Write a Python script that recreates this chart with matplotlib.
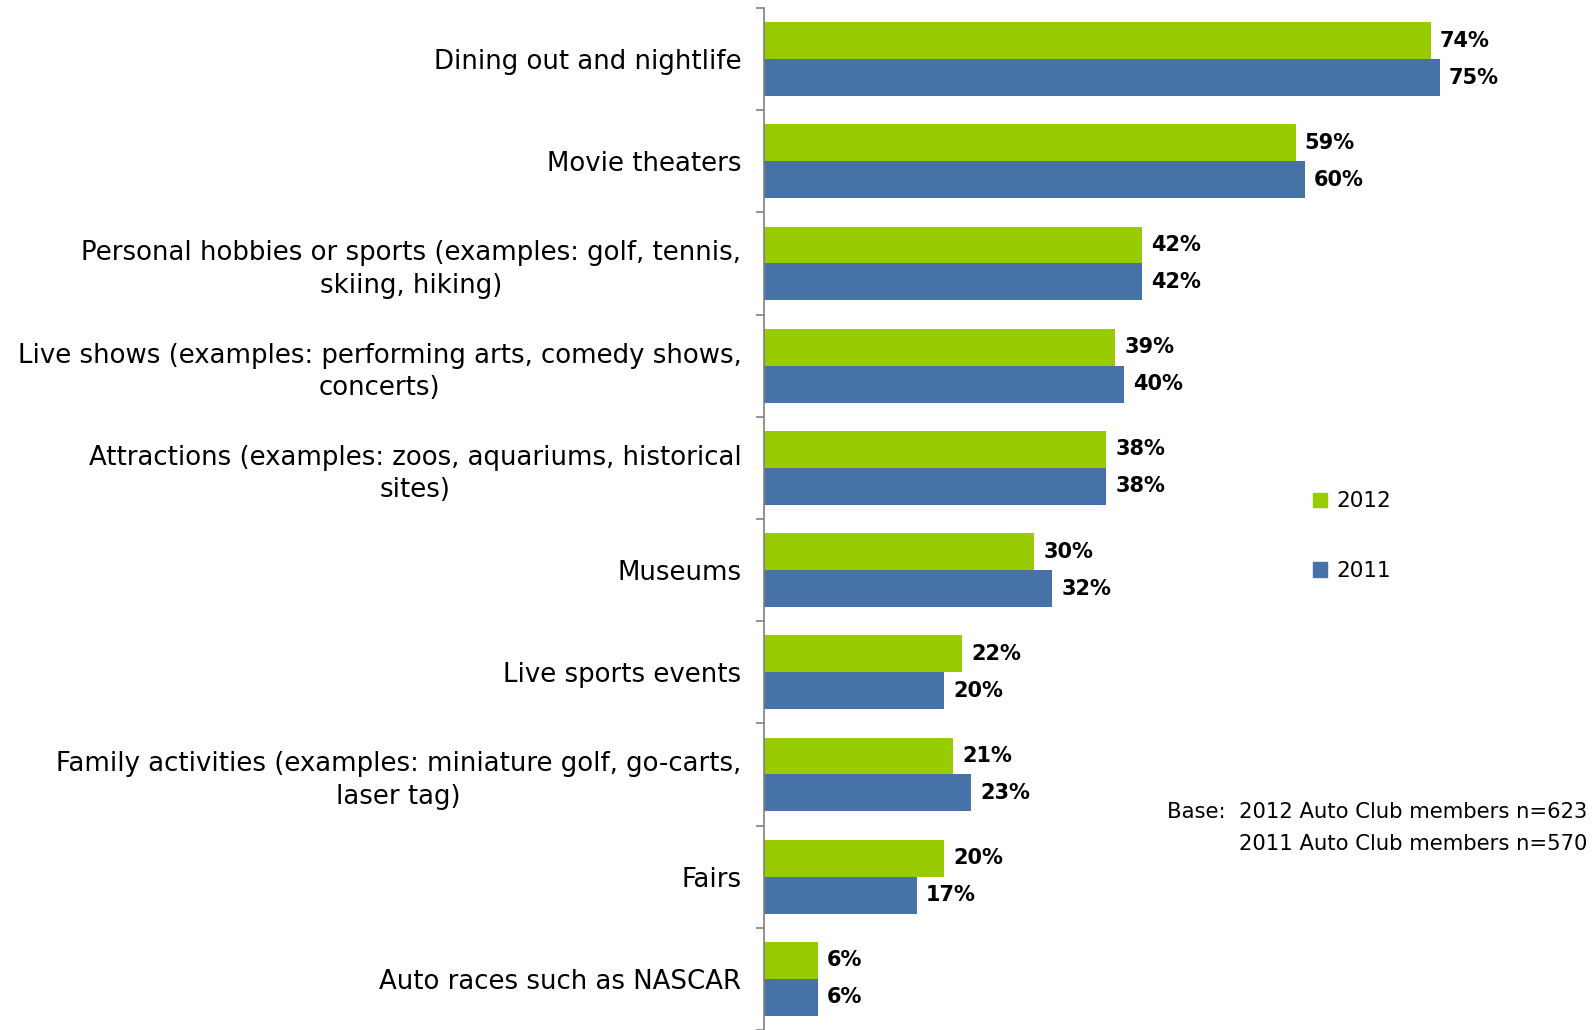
import numpy as np
import matplotlib.pyplot as plt
from matplotlib.patches import Patch

plt.rcParams["font.family"] = ["DejaVu Sans"]

categories = [
    "Dining out and nightlife",
    "Movie theaters",
    "Personal hobbies or sports (examples: golf, tennis,\nskiing, hiking)",
    "Live shows (examples: performing arts, comedy shows,\nconcerts)",
    "Attractions (examples: zoos, aquariums, historical\nsites)",
    "Museums",
    "Live sports events",
    "Family activities (examples: miniature golf, go-carts,\nlaser tag)",
    "Fairs",
    "Auto races such as NASCAR",
]
pct_2012 = [74, 59, 42, 39, 38, 30, 22, 21, 20, 6]
pct_2011 = [75, 60, 42, 40, 38, 32, 20, 23, 17, 6]

GREEN = "#99CC00"
BLUE = "#4672A8"

W, H = 1595, 1030
fig = plt.figure(figsize=(W / 100, H / 100), dpi=100)
ax = fig.add_axes([763.5 / W, 0, 1 - 763.5 / W, (H - 8) / H])

y = np.arange(len(categories))
bh = 0.362
ax.barh(y - bh / 2, pct_2012, height=bh, color=GREEN, label="2012")
ax.barh(y + bh / 2, pct_2011, height=bh, color=BLUE, label="2011")

for yi, v in zip(y - bh / 2, pct_2012):
    ax.annotate(f"{v}%", (v, yi), xytext=(6.5, 0), textcoords="offset points",
                va="center", ha="left", fontsize=15, fontweight="bold")
for yi, v in zip(y + bh / 2, pct_2011):
    ax.annotate(f"{v}%", (v, yi), xytext=(6.5, 0), textcoords="offset points",
                va="center", ha="left", fontsize=15, fontweight="bold")

ax.set_xlim(0, (W - 763.5) / 9.02)
ax.set_ylim(len(categories) - 0.5, -0.5)

# category names at the centres, tick marks on the boundaries
ax.set_yticks(y)
ax.set_yticklabels(categories, fontsize=18.7, multialignment="center", linespacing=1.32)
ax.tick_params(axis="y", which="major", length=0, pad=16)
ax.set_yticks(np.arange(len(categories) + 1) - 0.5, minor=True)
ax.tick_params(axis="y", which="minor", length=6, width=1.2, color="#808080")
ax.set_xticks([])

for s in ["top", "right", "bottom"]:
    ax.spines[s].set_visible(False)
ax.spines["left"].set_color("#808080")
ax.spines["left"].set_linewidth(1.2)

handles = [Patch(color=GREEN, label="2012"), Patch(color=BLUE, label="2011")]
fig.legend(handles=handles, loc="upper left", bbox_to_anchor=(1294 / W, 1 - 472 / H),
           frameon=False, fontsize=15.5, handlelength=0.65, handleheight=0.65,
           handletextpad=0.4, labelspacing=2.3)

fig.text(1587 / W, 1 - 828 / H, "Base:  2012 Auto Club members n=623\n2011 Auto Club members n=570",
         ha="right", va="center", multialignment="right", fontsize=15.2, linespacing=1.72)

fig.savefig("out.png", dpi=100)
